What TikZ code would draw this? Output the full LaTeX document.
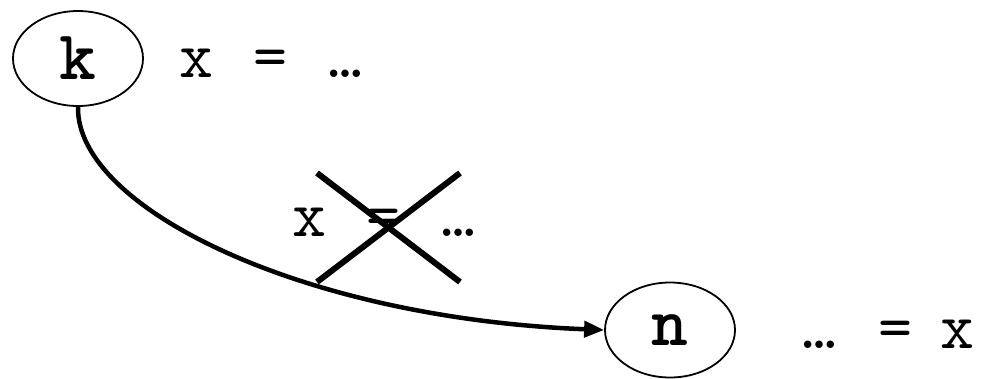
\documentclass[tikz,border=0pt]{standalone}
\usepackage{fontspec}
\usetikzlibrary{shapes.geometric,arrows.meta}
\tikzset{
  statenode/.style={ellipse, draw, line width=1.8pt, minimum width=130pt, minimum height=95pt, inner sep=0pt, font=\fontsize{70}{76}\selectfont\ttfamily\bfseries},
  codetext/.style={anchor=base, inner sep=0pt, font=\fontsize{66}{72}\selectfont\ttfamily, execute at begin node={\spaceskip=41pt\relax}},
  edge/.style={line width=4.5pt, -{Triangle[length=20pt,width=16pt]}},
  crossline/.style={line width=6pt}
}
\begin{document}
\begin{tikzpicture}[x=1pt,y=-1pt]
\useasboundingbox (0,0) rectangle (996,378);
\node[statenode] (k) at (78,58.5) {k};
\node[statenode] (n) at (670,330) {n};
\node[codetext] (t1) at (271,77) {x = …};
\node[codetext] (t2) at (384,236) {x = …};
\node[codetext, anchor=base west] (t3) at (802,348) {…\hspace{42pt}=\hspace{28pt}x};
\draw[edge] (k.south) .. controls (76,207) and (300,318) .. (n.west);
\coordinate (c1) at (317,173);
\coordinate (c2) at (460,282);
\coordinate (c3) at (460,173);
\coordinate (c4) at (317,282);
\draw[crossline] (c1) -- (c2);
\draw[crossline] (c3) -- (c4);
\end{tikzpicture}
\end{document}
